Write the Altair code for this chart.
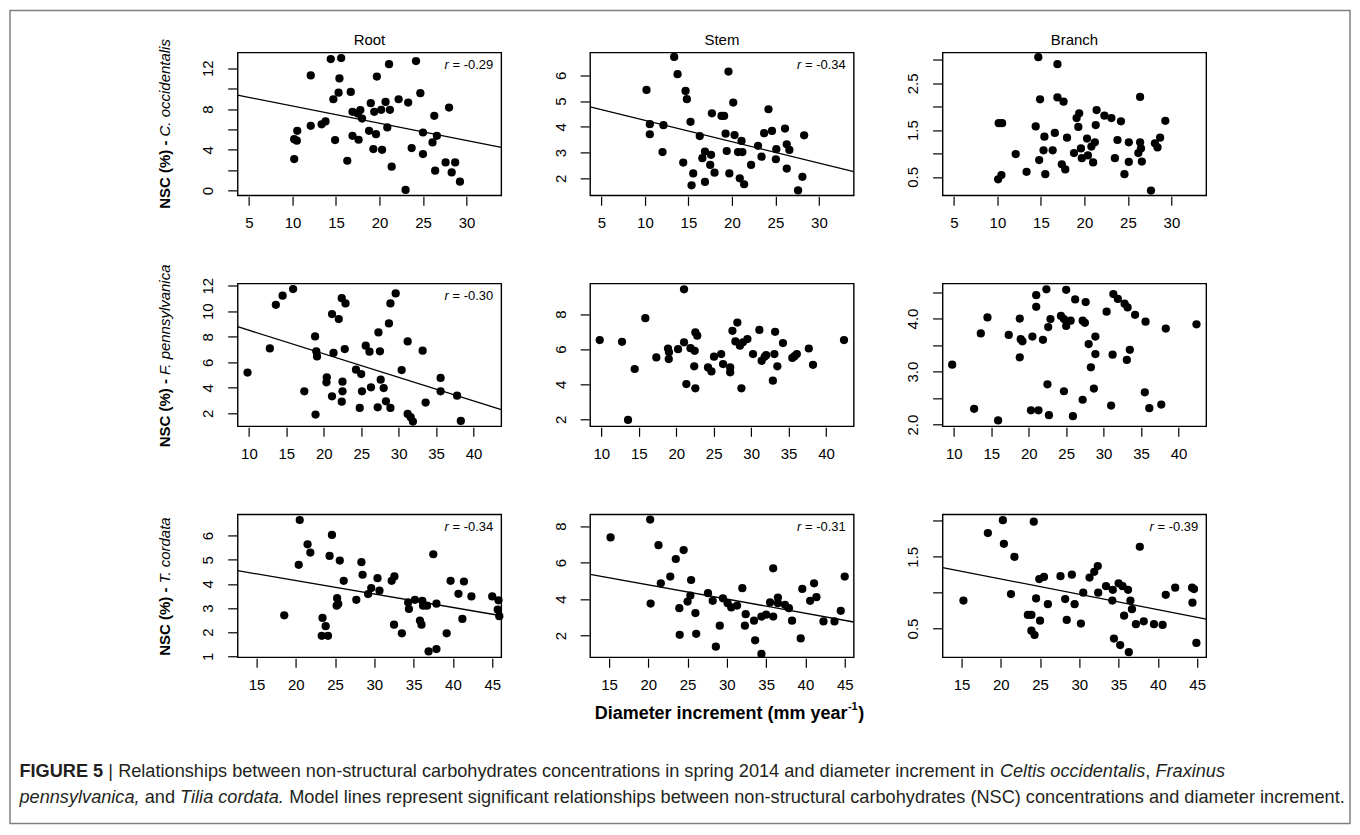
import altair as alt
import pandas as pd

FONT = "Liberation Sans"

# ---------------- axis ticks / domains ----------------
row1_xticks = [5, 10, 15, 20, 25, 30]
row2_xticks = [10, 15, 20, 25, 30, 35, 40]
row3_xticks = [15, 20, 25, 30, 35, 40, 45]
row1_xdom = [3.7, 34.0]
row2_xdom = [8.5, 43.7]
row3_xdom = [12.6, 46.15]

col_titles = ["Root", "Stem", "Branch"]
species = ["C. occidentalis", "F. pennsylvanica", "T. cordata"]

# ---------------- C. occidentalis ----------------
root_co_x = [10.2, 10.5, 10.55, 10.2, 12.1, 12.1, 13.35, 13.8, 14.4, 15.6, 15.4, 15.3, 14.7, 14.9, 16.3, 16.7, 16.9, 17.8, 17.5, 18.0,
             16.9, 17.6, 18.8, 19.0, 19.4, 19.7, 19.6, 19.3, 20.3, 20.2, 20.7, 21.2, 21.1, 20.9, 21.4, 22.2, 23.0, 23.3, 23.7, 24.2,
             24.7, 25.0, 25.0, 26.3, 26.1, 26.6, 26.4, 28.0, 27.6, 28.7, 28.3, 29.25]
root_co_y = [5.05, 4.9, 5.87, 3.1, 11.3, 6.36, 6.5, 6.78, 12.9, 13.0, 11.0, 9.6, 8.96, 4.96, 2.93, 9.68, 7.73, 7.9, 7.56, 7.07,
             5.38, 4.99, 5.87, 8.57, 7.73, 11.18, 5.54, 4.08, 4.0, 7.92, 8.7, 7.92, 12.4, 6.2, 2.35, 8.96, 0.07, 8.64, 4.17, 12.7,
             9.55, 5.7, 3.59, 7.34, 4.73, 5.38, 1.96, 8.15, 2.77, 2.77, 1.79, 0.88]
root_co_line = [9.36, 4.24]

stem_co_x = [10.18, 10.56, 10.56, 12.13, 12.02, 13.36, 13.75, 14.67, 14.82, 15.24, 14.4, 15.55, 15.36, 16.3, 16.9, 16.6, 17.6, 17.5,
             16.9, 18.0, 17.7, 18.8, 19.1, 19.27, 19.6, 19.4, 19.7, 20.15, 20.3, 20.7, 21.2, 21.1, 20.9, 21.4, 22.2, 23.0, 23.4, 23.7,
             24.6, 24.2, 25.1, 25.05, 26.1, 26.3, 26.6, 26.3, 28.1, 27.6, 28.3]
stem_co_y = [5.43, 4.10, 3.71, 4.06, 3.02, 6.71, 6.04, 5.39, 5.07, 4.19, 2.61, 2.19, 1.73, 3.64, 3.04, 2.78, 2.91, 2.52, 1.86, 2.22,
             4.52, 4.42, 4.42, 3.73, 6.14, 3.06, 2.19, 4.94, 3.68, 3.02, 3.02, 3.45, 2.0, 1.77, 2.52, 3.26, 2.84, 3.75, 3.84, 4.68,
             3.13, 2.74, 3.93, 3.32, 3.10, 2.38, 2.06, 1.53, 3.67]
stem_co_line = [4.77, 2.26]

branch_co_x = [10.08, 10.46, 10.15, 10.54, 12.1, 13.35, 14.4, 14.8, 14.7, 14.9, 15.4, 15.3, 15.5, 16.35, 16.6, 16.9, 16.9, 17.6, 17.4,
               17.8, 18.0, 18.8, 19.1, 19.4, 19.3, 19.6, 19.7, 20.3, 20.4, 20.8, 21.2, 21.0, 21.3, 21.4, 22.3, 23.1, 23.8, 23.5,
               24.2, 24.6, 25.1, 25.1, 26.2, 26.4, 26.5, 26.6, 26.4, 27.65, 28.1, 28.4, 28.7, 29.3]
branch_co_y = [0.45, 0.54, 1.65, 1.65, 0.99, 0.61, 1.58, 0.86, 3.06, 2.16, 1.36, 1.07, 0.56, 1.07, 1.44, 2.91, 2.2, 2.11, 0.77, 0.66,
               1.34, 1.01, 1.76, 1.86, 1.57, 1.11, 0.9, 1.32, 0.96, 1.15, 1.24, 0.81, 1.61, 1.93, 1.81, 1.76, 1.29, 0.9, 1.69, 0.56,
               1.24, 0.82, 1.01, 1.24, 1.11, 0.83, 2.21, 0.21, 1.22, 1.13, 1.34, 1.7]

# ---------------- F. pennsylvanica ----------------
root_fp_x = [9.82, 12.8, 13.6, 14.5, 15.9, 17.4, 18.84, 19.0, 19.1, 18.9, 20.4, 20.36, 21.1, 21.1, 21.3, 22.0, 22.4, 22.9, 22.8, 22.5,
             22.5, 22.4, 24.3, 25.0, 25.6, 26.1, 25.1, 24.8, 26.3, 27.3, 27.5, 27.6, 28.0, 28.3, 27.2, 28.9, 28.7, 28.9, 29.6, 30.4,
             31.2, 33.2, 33.6, 31.2, 31.6, 35.6, 35.6, 37.8, 38.3, 31.9]
root_fp_y = [5.19, 7.09, 10.51, 11.22, 11.74, 3.72, 8.03, 6.86, 6.46, 1.9, 4.82, 4.43, 3.33, 9.78, 6.73, 9.39, 11.03, 10.62, 7.04, 4.48,
             3.72, 2.91, 5.42, 5.08, 7.3, 6.83, 3.72, 2.42, 4.04, 8.34, 6.86, 4.64, 3.98, 2.94, 2.47, 2.42, 9.05, 10.62, 11.4, 5.39,
             7.64, 6.91, 2.84, 1.95, 1.69, 4.77, 3.72, 3.38, 1.4, 1.35]
root_fp_line = [8.79, 2.29]

stem_fp_x = [9.78, 12.76, 14.45, 13.56, 15.87, 17.34, 18.9, 19.03, 19.0, 20.24, 21.04, 21.04, 21.35, 21.9, 22.4, 22.55, 22.46, 22.55,
             22.8, 24.24, 24.7, 25.04, 26.0, 26.25, 27.2, 27.2, 27.5, 28.16, 27.9, 28.5, 28.9, 29.5, 28.7, 30.25, 31.1, 31.4, 31.8,
             32.0, 33.1, 33.2, 32.9, 33.5, 34.25, 35.5, 35.8, 36.1, 37.7, 38.26, 42.4]
stem_fp_y = [6.52, 6.42, 4.87, 1.96, 7.77, 5.53, 6.04, 5.82, 5.44, 6.0, 9.42, 6.39, 4.01, 6.06, 5.02, 3.77, 5.91, 6.96, 6.77, 4.96,
             4.73, 5.57, 5.72, 5.15, 4.96, 4.68, 7.05, 7.52, 6.44, 6.2, 6.39, 6.58, 3.77, 5.72, 7.1, 5.34, 5.57, 5.66, 5.72, 6.99,
             4.2, 5.02, 6.35, 5.5, 5.6, 5.72, 6.04, 5.11, 6.52]

branch_fp_x = [9.78, 12.71, 13.6, 14.49, 15.91, 17.33, 18.8, 18.93, 19.16, 18.8, 20.49, 21.0, 21.0, 21.9, 22.36, 22.6, 22.9, 22.5,
               22.7, 20.3, 21.3, 24.3, 24.7, 25.0, 25.6, 25.0, 26.2, 24.7, 25.9, 27.2, 27.5, 27.6, 27.2, 28.0, 28.9, 28.9, 28.3,
               28.7, 30.4, 31.3, 31.9, 32.8, 33.2, 34.2, 31.2, 33.5, 33.1, 31.0, 35.6, 35.5, 36.1, 37.7, 38.3, 42.4]
branch_fp_y = [3.13, 2.30, 3.72, 4.02, 2.08, 3.69, 4.0, 3.61, 3.57, 3.27, 3.66, 4.44, 4.22, 3.6, 4.55, 3.84, 3.99, 2.76, 2.18, 2.27,
               2.27, 4.05, 3.99, 3.86, 3.96, 4.54, 4.36, 2.63, 2.16, 3.96, 3.92, 4.31, 2.47, 3.52, 3.66, 3.33, 3.08, 2.68, 4.13, 4.46,
               4.37, 4.28, 4.21, 4.07, 3.32, 3.41, 3.22, 2.36, 3.94, 2.61, 2.31, 2.38, 3.81, 3.89]

# ---------------- T. cordata ----------------
root_tc_x = [18.53, 20.5, 20.37, 21.5, 21.85, 23.4, 24.6, 24.3, 25.6, 26.1, 25.26, 25.2, 25.4, 27.7, 28.35, 28.5, 29.2, 29.6, 30.4,
             30.65, 32.2, 32.55, 32.5, 34.3, 34.4, 35.16, 36.1, 36.2, 36.7, 37.5, 37.9, 35.8, 36.0, 39.7, 41.4, 40.7, 42.35, 41.2,
             45.0, 45.8, 45.7, 45.9, 23.3, 24.1, 23.8, 33.5, 36.9, 37.9, 39.2]
root_tc_y = [2.7, 6.65, 4.79, 5.64, 5.3, 2.59, 6.03, 5.16, 4.97, 4.13, 3.41, 3.1, 3.17, 3.34, 4.9, 4.38, 3.58, 3.83, 4.24, 3.72,
             4.13, 4.31, 2.31, 3.23, 2.96, 3.34, 3.3, 3.1, 3.1, 5.23, 3.18, 2.48, 2.31, 4.13, 4.1, 3.59, 3.48, 2.55, 3.48, 3.32,
             2.93, 2.66, 1.85, 1.85, 2.25, 1.95, 1.2, 1.3, 1.95]
root_tc_line = [4.55, 2.68]

stem_tc_x = [15.2, 20.24, 21.3, 21.6, 20.3, 23.5, 24.5, 22.8, 25.45, 23.95, 25.0, 25.36, 26.0, 27.6, 28.2, 29.5, 30.1, 30.56, 31.3,
             31.97, 32.4, 33.46, 34.4, 35.0, 35.9, 35.5, 36.5, 36.5, 37.4, 37.9, 38.3, 35.9, 39.6, 40.6, 41.1, 41.4, 42.3, 43.7,
             44.5, 45.0, 29.1, 32.3, 24.0, 28.6, 33.6, 34.4, 39.4, 26.1]
stem_tc_y = [7.38, 8.36, 6.96, 4.87, 3.76, 6.2, 6.69, 5.24, 5.05, 3.51, 3.87, 4.2, 3.24, 4.33, 3.91, 4.05, 3.78, 3.55, 3.65, 4.6,
             3.18, 2.82, 3.05, 3.15, 3.05, 3.82, 4.09, 3.78, 3.69, 3.51, 2.82, 5.69, 4.56, 3.91, 4.87, 4.11, 2.78, 2.78, 3.36, 5.24,
             2.55, 2.55, 2.05, 1.4, 1.75, 1.0, 1.85, 2.1]
stem_tc_line = [5.36, 2.75]

branch_tc_x = [15.25, 18.36, 20.27, 20.4, 21.74, 21.3, 24.2, 24.5, 24.9, 25.5, 26.0, 23.45, 23.9, 25.0, 27.6, 29.05, 28.2, 29.4, 28.4,
               30.2, 30.5, 31.3, 31.9, 32.35, 32.4, 33.4, 34.26, 34.2, 35.0, 35.5, 36.2, 36.5, 36.7, 35.7, 37.7, 37.2, 38.2, 39.5,
               40.6, 41.0, 42.2, 44.35, 44.6, 44.4, 23.9, 24.3, 34.4, 35.2, 36.3, 44.9]
branch_tc_y = [0.89, 1.83, 2.01, 1.68, 1.5, 0.98, 1.99, 0.92, 1.19, 1.22, 0.84, 0.69, 0.69, 0.61, 1.23, 1.25, 0.91, 0.84, 0.62, 0.57,
               1.0, 1.21, 1.29, 1.37, 1.0, 1.09, 1.04, 0.89, 1.13, 1.09, 1.04, 0.89, 0.77, 0.68, 1.64, 0.56, 0.6, 0.56, 0.55, 0.97,
               1.07, 1.07, 1.05, 0.86, 0.47, 0.41, 0.36, 0.27, 0.17, 0.3]
branch_tc_line = [1.35, 0.63]

# ---------------- text ----------------
caption_line1 = [("FIGURE 5", "bold", "normal"), (" | ", "normal", "normal"),
                 ("Relationships between non-structural carbohydrates concentrations in spring 2014 and diameter increment in ", "normal", "normal"),
                 ("Celtis occidentalis", "normal", "italic"), (", ", "normal", "normal"), ("Fraxinus", "normal", "italic")]
caption_line2 = [("pennsylvanica,", "normal", "italic"), (" and ", "normal", "normal"), ("Tilia cordata.", "normal", "italic"),
                 (" Model lines represent significant relationships between non-structural carbohydrates (NSC) concentrations and diameter increment.", "normal", "normal")]
x_title_main = "Diameter increment (mm year"
x_title_sup = "-1"
x_title_end = ")"

# ---------------- Arial / Liberation Sans advance widths (per 1000 em) ----------------
LOW = "abcdefghijklmnopqrstuvwxyz"
UP = "ABCDEFGHIJKLMNOPQRSTUVWXYZ"
REG_W = dict(zip(LOW, [556, 556, 500, 556, 556, 278, 556, 556, 222, 222, 500, 222, 833, 556, 556, 556, 556, 333, 500, 278, 556, 500, 722, 500, 500, 500]))
REG_W.update(zip(UP, [667, 667, 722, 722, 667, 611, 778, 722, 278, 500, 667, 556, 833, 722, 778, 667, 778, 722, 667, 611, 722, 667, 944, 667, 667, 611]))
REG_W.update({c: 556 for c in "0123456789"})
REG_W.update({" ": 278, ",": 278, ".": 278, "-": 333, "(": 333, ")": 333, "%": 889, "|": 260, "=": 584})
BOLD_W = dict(zip(LOW, [556, 611, 556, 611, 556, 333, 611, 611, 278, 278, 556, 278, 889, 611, 611, 611, 611, 389, 556, 333, 611, 556, 778, 556, 556, 500]))
BOLD_W.update(zip(UP, [722, 722, 722, 722, 667, 611, 778, 722, 278, 556, 722, 611, 833, 722, 778, 667, 778, 722, 667, 611, 722, 667, 944, 667, 667, 611]))
BOLD_W.update({c: 556 for c in "0123456789"})
BOLD_W.update({" ": 278, ",": 278, ".": 278, "-": 333, "(": 333, ")": 333, "%": 889, "|": 280, "=": 584})


def text_width(s, size, weight="normal"):
    table = BOLD_W if weight == "bold" else REG_W
    return sum(table.get(c, 556) for c in s) / 1000.0 * size


# ---------------- layout ----------------
W, H = 264, 143
TXT = "#000000"


def tlayer(text, x, y, size, weight="normal", style="normal", align="left", baseline="middle", angle=0, color=TXT):
    return alt.Chart(pd.DataFrame({"t": [text]})).mark_text(
        align=align, baseline=baseline, font=FONT, fontSize=size, fontWeight=weight,
        fontStyle=style, angle=angle, color=color
    ).encode(text="t:N", x=alt.value(x), y=alt.value(y))


def panel(xv, yv, xdom, ydom, xticks, yticks, ylabs, yfmt, line=None, r=None):
    df = pd.DataFrame({"x": xv, "y": yv})
    xs = alt.Scale(domain=xdom, nice=False, zero=False)
    ys = alt.Scale(domain=ydom, nice=False, zero=False)
    common = dict(title=None, grid=False, domain=False, tickColor="black", tickWidth=1.2, tickSize=9, offset=1,
                  labelFont=FONT, labelFontSize=15, labelColor="black", labelOverlap=False, labelFlush=False)
    xaxis = alt.Axis(values=xticks, labelPadding=10, **common)
    lab_list = "[" + ",".join(str(v) for v in ylabs) + "]"
    yaxis = alt.Axis(values=yticks, labelPadding=12, labelAngle=270, labelAlign="center", labelBaseline="bottom",
                     labelExpr=f"indexof({lab_list}, datum.value) >= 0 ? format(datum.value, '{yfmt}') : ''", **common)
    layers = [alt.Chart(df).mark_circle(size=68, color="black", opacity=1).encode(
        x=alt.X("x:Q", scale=xs, axis=xaxis), y=alt.Y("y:Q", scale=ys, axis=yaxis))]
    if line is not None:
        ldf = pd.DataFrame({"x": xdom, "y": line})
        layers.append(alt.Chart(ldf).mark_line(color="black", strokeWidth=1.3).encode(
            x=alt.X("x:Q", scale=xs, axis=xaxis), y=alt.Y("y:Q", scale=ys, axis=yaxis)))
    if r is not None:
        rest = " = " + r
        layers.append(tlayer(rest.strip(), W - 8, 12.5, 13, align="right"))
        layers.append(tlayer("r", W - 8 - text_width(rest, 13), 12.5, 13, style="italic", align="right"))
    return layers


cells = [
    panel(root_co_x, root_co_y, row1_xdom, [-0.46, 13.54], row1_xticks, [0, 2, 4, 6, 8, 10, 12], [0, 4, 8, 12], "d", root_co_line, "-0.29"),
    panel(stem_co_x, stem_co_y, row1_xdom, [1.34, 6.88], row1_xticks, [2, 3, 4, 5, 6], [2, 3, 4, 5, 6], "d", stem_co_line, "-0.34"),
    panel(branch_co_x, branch_co_y, row1_xdom, [0.107, 3.16], row1_xticks, [0.5, 1.0, 1.5, 2.0, 2.5, 3.0], [0.5, 1.5, 2.5], ".1f"),
    panel(root_fp_x, root_fp_y, row2_xdom, [0.98, 12.18], row2_xticks, [2, 4, 6, 8, 10, 12], [2, 4, 6, 8, 10, 12], "d", root_fp_line, "-0.30"),
    panel(stem_fp_x, stem_fp_y, row2_xdom, [1.6, 9.75], row2_xticks, [2, 4, 6, 8], [2, 4, 6, 8], "d"),
    panel(branch_fp_x, branch_fp_y, row2_xdom, [1.97, 4.66], row2_xticks, [2.0, 2.5, 3.0, 3.5, 4.0, 4.5], [2, 3, 4], ".1f"),
    panel(root_tc_x, root_tc_y, row3_xdom, [0.96, 6.88], row3_xticks, [1, 2, 3, 4, 5, 6], [1, 2, 3, 4, 5, 6], "d", root_tc_line, "-0.34"),
    panel(stem_tc_x, stem_tc_y, row3_xdom, [0.82, 8.64], row3_xticks, [2, 4, 6, 8], [2, 4, 6, 8], "d", stem_tc_line, "-0.31"),
    panel(branch_tc_x, branch_tc_y, row3_xdom, [0.1, 2.09], row3_xticks, [0.5, 1.0, 1.5, 2.0], [0.5, 1.5], ".1f", branch_tc_line, "-0.39"),
]

# column titles
for c in range(3):
    cells[c].append(tlayer(col_titles[c], W / 2, -12.5, 15, align="center"))

# row labels (bold prefix + italic species, rotated; text runs upwards)
ROW_FS = 15
prefix = "NSC (%) - "
space_b = text_width(" ", ROW_FS, "bold")
for rI in range(3):
    bw = text_width(prefix, ROW_FS, "bold")
    iw = text_width(species[rI], ROW_FS)
    anchor = H / 2 + (bw + iw) / 2 - bw
    cells[rI * 3].append(tlayer(prefix.strip(), -67.5, anchor + space_b, ROW_FS, weight="bold", align="right",
                                baseline="alphabetic", angle=270))
    cells[rI * 3].append(tlayer(species[rI], -67.5, anchor, ROW_FS, style="italic", align="left",
                                baseline="alphabetic", angle=270))

# outer border (in the first panel's coordinates)
cells[0].insert(0, alt.Chart(pd.DataFrame({"b": [0]})).mark_rect(filled=False, stroke="#808080", strokeWidth=1.5).encode(
    x=alt.value(-228), x2=alt.value(1114), y=alt.value(-42), y2=alt.value(772)))

# x-axis title under the middle bottom panel
XT_FS = 18
w_main = text_width(x_title_main, XT_FS, "bold")
w_sup = text_width(x_title_sup, 11, "bold")
w_end = text_width(x_title_end, XT_FS, "bold")
x0 = 139 - (w_main + w_sup + w_end) / 2
cells[7].append(tlayer(x_title_main, x0, 199.5, XT_FS, weight="bold", baseline="middle"))
cells[7].append(tlayer(x_title_sup, x0 + w_main + 0.5, 193, 11, weight="bold", baseline="middle"))
cells[7].append(tlayer(x_title_end, x0 + w_main + w_sup + 1, 199.5, XT_FS, weight="bold", baseline="middle"))

# caption under the bottom-left panel (leading spaces are collapsed by SVG, so offset them explicitly)
line2_em = sum(text_width(s, 1, w) for s, w, _ in caption_line2)
CAP_FS = round(1326 / line2_em, 1)
for lines, yy in ((caption_line1, 258), (caption_line2, 284)):
    xx = -218.5
    for s, w, st in lines:
        lead = len(s) - len(s.lstrip(" "))
        cells[6].append(tlayer(s.strip(), xx + text_width(" " * lead, CAP_FS, w), yy, CAP_FS, weight=w, style=st,
                               color="#231f20"))
        xx += text_width(s, CAP_FS, w)

charts = [alt.layer(*ls).properties(width=W, height=H) for ls in cells]

chart = alt.concat(*charts, columns=3, spacing={"row": 88.3, "column": 89}, bounds="flush").properties(
    padding=0
).configure_view(stroke="black", strokeWidth=1.4)

chart.save("out.html", embed_options={"renderer": "svg", "actions": False})
